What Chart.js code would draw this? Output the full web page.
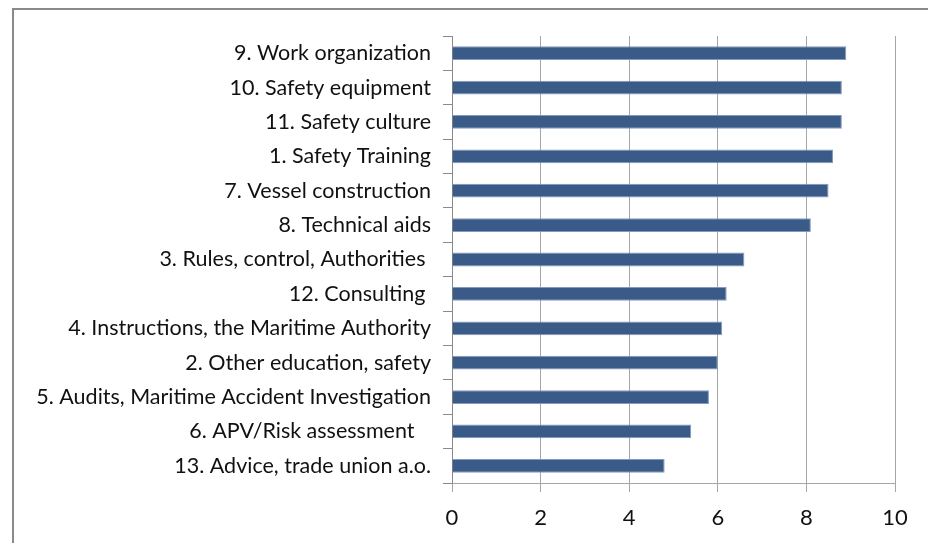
<!DOCTYPE html>
<html>
<head>
<meta charset="utf-8">
<script src="https://cdn.jsdelivr.net/npm/chart.js@4"></script>
<style>
  body { margin: 0; background: #fff; }
  #frame {
    position: absolute; left: 12px; top: 8px; width: 930px; height: 560px;
    border-left: 2px solid #8a8a8a; border-top: 2px solid #8a8a8a;
  }
  #wrap { position: absolute; left: 0; top: 0; width: 928px; height: 543px; }
</style>
</head>
<body>
<div id="frame"></div>
<div id="wrap"><canvas id="barchart"></canvas></div>
<script>
const categories = [
    '9. Work organization',
    '10. Safety equipment',
    '11. Safety culture',
    '1. Safety Training',
    '7. Vessel construction',
    '8. Technical aids',
    '3. Rules, control, Authorities ',
    '12. Consulting ',
    '4. Instructions, the Maritime Authority',
    '2. Other education, safety',
    '5. Audits, Maritime Accident Investigation',
    '6. APV/Risk assessment   ',
    '13. Advice, trade union a.o.'
];
const scores = [8.9, 8.8, 8.8, 8.6, 8.5, 8.1, 6.6, 6.2, 6.1, 6.0, 5.8, 5.4, 4.8];
const xTicks = [0, 2, 4, 6, 8, 10];

var ctx = document.getElementById('barchart').getContext('2d');
var chart = new Chart(ctx, {
    type: 'bar',
    data: {
        labels: categories,
        datasets: [{
            data: scores,
            backgroundColor: '#3a5a88',
            borderColor: '#8399bd',
            borderWidth: 1,
            categoryPercentage: 1,
            barPercentage: 0.4
        }]
    },
    options: {
        indexAxis: 'y',
        responsive: true,
        maintainAspectRatio: false,
        animation: false,
        layout: { padding: { left: 0, right: 33, top: 36, bottom: 0 } },
        plugins: { legend: { display: false }, tooltip: { enabled: false } },
        scales: {
            x: {
                min: 0,
                max: 10,
                afterBuildTicks: (s) => { s.ticks = xTicks.map(v => ({ value: v })); },
                afterFit: (s) => { s.height = 60; },
                grid: { color: '#a6a6a6', lineWidth: 1, tickLength: 9 },
                border: { color: '#a6a6a6' },
                ticks: { color: '#111', padding: 13, font: { family: 'Lato', size: 22 } }
            },
            y: {
                afterFit: (s) => { s.width = 452; },
                grid: { drawOnChartArea: false, color: '#8a8a8a', tickLength: 9 },
                border: { color: '#8a8a8a' },
                ticks: { color: '#111', padding: 12, font: { family: 'Lato', size: 21.5 } }
            }
        }
    }
});
</script>
</body>
</html>
